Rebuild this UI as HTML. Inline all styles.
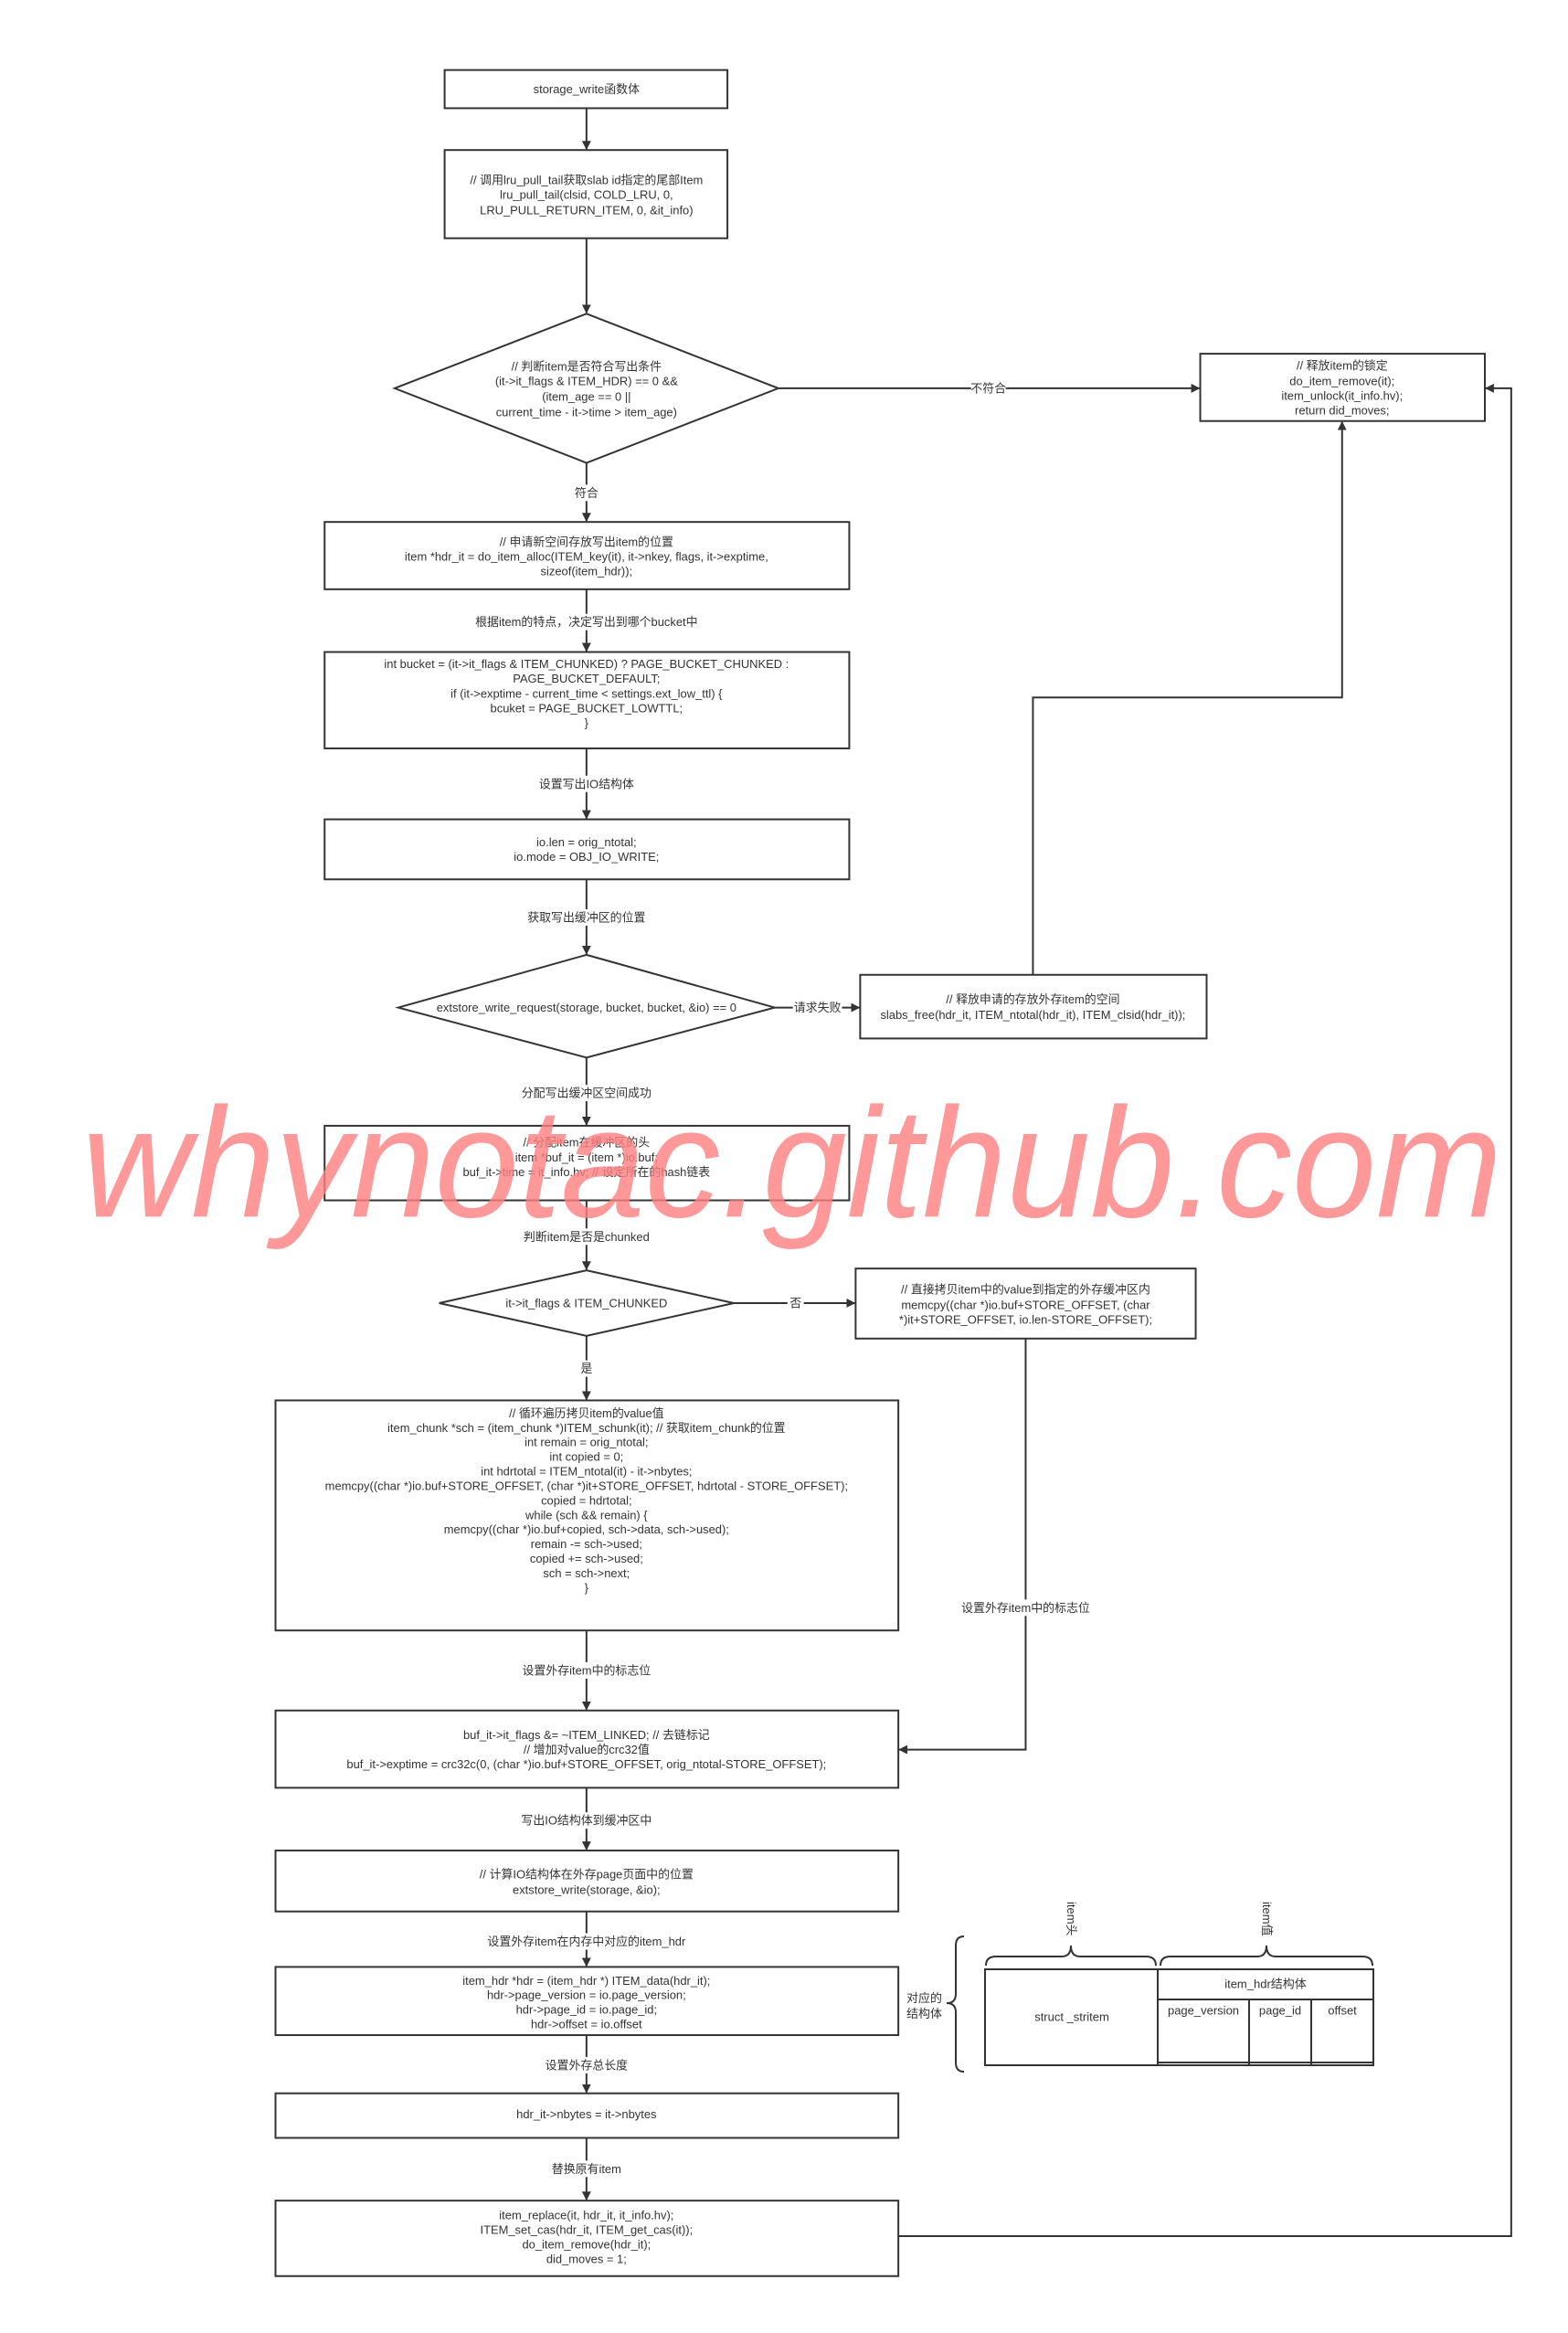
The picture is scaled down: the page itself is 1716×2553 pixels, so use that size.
<!DOCTYPE html>
<html><head><meta charset="utf-8"><style>
html,body{margin:0;padding:0;background:#fff}
svg{display:block}
text{font-family:"Liberation Sans","Noto Sans CJK SC",sans-serif;font-size:13px;fill:#333}
</style></head><body>
<svg width="1716" height="2553" viewBox="0 0 1716 2553" xmlns="http://www.w3.org/2000/svg">
<defs><marker id="a" markerWidth="10" markerHeight="10" refX="9" refY="5" orient="auto" markerUnits="userSpaceOnUse"><path d="M0,0 L10,5 L0,10 z" fill="#333"/></marker></defs>
<g transform="scale(0.9951)">
<g fill="none" stroke="#333" stroke-width="2">
<rect x="489" y="77" width="311" height="42"/>
<rect x="489" y="165" width="311" height="97"/>
<polygon points="645,345 856,427 645,509 434,427"/>
<rect x="1320" y="389" width="313" height="74"/>
<rect x="357" y="574" width="577" height="74"/>
<rect x="357" y="717" width="577" height="106"/>
<rect x="357" y="901" width="577" height="66"/>
<polygon points="645,1050 852,1108 645,1163 438,1108"/>
<rect x="946" y="1072" width="381" height="70"/>
<rect x="357" y="1238" width="577" height="82"/>
<polygon points="645,1397 807,1433 645,1469 483,1433"/>
<rect x="941" y="1395" width="374" height="77"/>
<rect x="303" y="1540" width="685" height="253"/>
<rect x="303" y="1881" width="685" height="85"/>
<rect x="303" y="2035" width="685" height="67"/>
<rect x="303" y="2163" width="685" height="75"/>
<rect x="303" y="2302" width="685" height="49"/>
<rect x="303" y="2420" width="685" height="83"/>
</g>
<g fill="none" stroke="#333" stroke-width="2" marker-end="url(#a)">
<line x1="645" y1="119" x2="645" y2="164"/>
<line x1="645" y1="262" x2="645" y2="344"/>
<line x1="856" y1="427" x2="1319" y2="427"/>
<line x1="645" y1="509" x2="645" y2="573"/>
<line x1="645" y1="648" x2="645" y2="716"/>
<line x1="645" y1="823" x2="645" y2="900"/>
<line x1="645" y1="967" x2="645" y2="1049"/>
<line x1="852" y1="1108" x2="945" y2="1108"/>
<polyline points="1136,1072 1136,767 1476,767 1476,464"/>
<line x1="645" y1="1163" x2="645" y2="1237"/>
<line x1="645" y1="1320" x2="645" y2="1396"/>
<line x1="807" y1="1433" x2="940" y2="1433"/>
<polyline points="1128,1472 1128,1924 989,1924"/>
<line x1="645" y1="1469" x2="645" y2="1539"/>
<line x1="645" y1="1793" x2="645" y2="1880"/>
<line x1="645" y1="1966" x2="645" y2="2034"/>
<line x1="645" y1="2102" x2="645" y2="2162"/>
<line x1="645" y1="2238" x2="645" y2="2301"/>
<line x1="645" y1="2351" x2="645" y2="2419"/>
<polyline points="988,2459 1662,2459 1662,427 1634,427"/>
</g>
<g text-anchor="middle" dominant-baseline="central">
<text x="645" y="98">storage_write函数体</text>
<text x="645" y="198">// 调用lru_pull_tail获取slab id指定的尾部Item</text>
<text x="645" y="214">lru_pull_tail(clsid, COLD_LRU, 0,</text>
<text x="645" y="231">LRU_PULL_RETURN_ITEM, 0, &amp;it_info)</text>
<text x="645" y="403">// 判断item是否符合写出条件</text>
<text x="645" y="419">(it-&gt;it_flags &amp; ITEM_HDR) == 0 &amp;&amp;</text>
<text x="645" y="436">(item_age == 0 ||</text>
<text x="645" y="453">current_time - it-&gt;time &gt; item_age)</text>
<rect x="1068" y="418" width="38" height="18" fill="#fff"/>
<text x="1087" y="427">不符合</text>
<text x="1476" y="402">// 释放item的锁定</text>
<text x="1476" y="419">do_item_remove(it);</text>
<text x="1476" y="435">item_unlock(it_info.hv);</text>
<text x="1476" y="451">return did_moves;</text>
<rect x="630" y="533" width="30" height="18" fill="#fff"/>
<text x="645" y="542">符合</text>
<text x="645" y="596">// 申请新空间存放写出item的位置</text>
<text x="645" y="612">item *hdr_it = do_item_alloc(ITEM_key(it),  it-&gt;nkey, flags, it-&gt;exptime,</text>
<text x="645" y="628">sizeof(item_hdr));</text>
<rect x="515" y="675" width="260" height="18" fill="#fff"/>
<text x="645" y="684">根据item的特点，决定写出到哪个bucket中</text>
<text x="645" y="730">int bucket = (it-&gt;it_flags &amp; ITEM_CHUNKED) ? PAGE_BUCKET_CHUNKED :</text>
<text x="645" y="746">PAGE_BUCKET_DEFAULT;</text>
<text x="645" y="763">if (it-&gt;exptime - current_time &lt; settings.ext_low_ttl) {</text>
<text x="645" y="779">bcuket = PAGE_BUCKET_LOWTTL;</text>
<text x="645" y="795">}</text>
<rect x="585" y="853" width="120" height="18" fill="#fff"/>
<text x="645" y="862">设置写出IO结构体</text>
<text x="645" y="926">io.len = orig_ntotal;</text>
<text x="645" y="942">io.mode = OBJ_IO_WRITE;</text>
<rect x="575" y="1000" width="140" height="18" fill="#fff"/>
<text x="645" y="1009">获取写出缓冲区的位置</text>
<text x="645" y="1108">extstore_write_request(storage, bucket, bucket, &amp;io) == 0</text>
<rect x="872" y="1099" width="54" height="18" fill="#fff"/>
<text x="899" y="1108">请求失败</text>
<text x="1136" y="1099">// 释放申请的存放外存item的空间</text>
<text x="1136" y="1116">slabs_free(hdr_it, ITEM_ntotal(hdr_it), ITEM_clsid(hdr_it));</text>
<rect x="568" y="1193" width="154" height="18" fill="#fff"/>
<text x="645" y="1202">分配写出缓冲区空间成功</text>
<text x="645" y="1256">// 分配item在缓冲区的头</text>
<text x="645" y="1273">item *buf_it = (item *)io.buf;</text>
<text x="645" y="1289">buf_it-&gt;time = it_info.hv;  // 设定所在的hash链表</text>
<rect x="570" y="1351" width="150" height="18" fill="#fff"/>
<text x="645" y="1360">判断item是否是chunked</text>
<text x="645" y="1433">it-&gt;it_flags &amp; ITEM_CHUNKED</text>
<rect x="866" y="1424" width="18" height="18" fill="#fff"/>
<text x="875" y="1433">否</text>
<text x="1128" y="1418">// 直接拷贝item中的value到指定的外存缓冲区内</text>
<text x="1128" y="1435">memcpy((char *)io.buf+STORE_OFFSET, (char</text>
<text x="1128" y="1451">*)it+STORE_OFFSET, io.len-STORE_OFFSET);</text>
<rect x="1055" y="1759" width="146" height="18" fill="#fff"/>
<text x="1128" y="1768">设置外存item中的标志位</text>
<rect x="636" y="1496" width="18" height="18" fill="#fff"/>
<text x="645" y="1505">是</text>
<text x="645" y="1554">// 循环遍历拷贝item的value值</text>
<text x="645" y="1570">item_chunk *sch = (item_chunk *)ITEM_schunk(it); // 获取item_chunk的位置</text>
<text x="645" y="1586">int remain = orig_ntotal;</text>
<text x="645" y="1602">int copied = 0;</text>
<text x="645" y="1618">int hdrtotal = ITEM_ntotal(it) - it-&gt;nbytes;</text>
<text x="645" y="1634">memcpy((char *)io.buf+STORE_OFFSET, (char *)it+STORE_OFFSET, hdrtotal - STORE_OFFSET);</text>
<text x="645" y="1650">copied = hdrtotal;</text>
<text x="645" y="1666">while (sch &amp;&amp; remain) {</text>
<text x="645" y="1682">memcpy((char *)io.buf+copied, sch-&gt;data, sch-&gt;used);</text>
<text x="645" y="1698">remain -= sch-&gt;used;</text>
<text x="645" y="1714">copied += sch-&gt;used;</text>
<text x="645" y="1730">sch = sch-&gt;next;</text>
<text x="645" y="1746">}</text>
<rect x="572" y="1828" width="146" height="18" fill="#fff"/>
<text x="645" y="1837">设置外存item中的标志位</text>
<text x="645" y="1908">buf_it-&gt;it_flags &amp;= ~ITEM_LINKED;  // 去链标记</text>
<text x="645" y="1924">// 增加对value的crc32值</text>
<text x="645" y="1940">buf_it-&gt;exptime = crc32c(0, (char *)io.buf+STORE_OFFSET, orig_ntotal-STORE_OFFSET);</text>
<rect x="572" y="1993" width="146" height="18" fill="#fff"/>
<text x="645" y="2002">写出IO结构体到缓冲区中</text>
<text x="645" y="2061">// 计算IO结构体在外存page页面中的位置</text>
<text x="645" y="2078">extstore_write(storage, &amp;io);</text>
<rect x="530" y="2126" width="230" height="18" fill="#fff"/>
<text x="645" y="2135">设置外存item在内存中对应的item_hdr</text>
<text x="645" y="2178">item_hdr *hdr = (item_hdr *) ITEM_data(hdr_it);</text>
<text x="645" y="2194">hdr-&gt;page_version = io.page_version;</text>
<text x="645" y="2210">hdr-&gt;page_id = io.page_id;</text>
<text x="645" y="2226">hdr-&gt;offset = io.offset</text>
<rect x="598" y="2262" width="94" height="18" fill="#fff"/>
<text x="645" y="2271">设置外存总长度</text>
<text x="645" y="2325">hdr_it-&gt;nbytes = it-&gt;nbytes</text>
<rect x="604" y="2376" width="82" height="18" fill="#fff"/>
<text x="645" y="2385">替换原有item</text>
<text x="645" y="2436">item_replace(it, hdr_it, it_info.hv);</text>
<text x="645" y="2452">ITEM_set_cas(hdr_it, ITEM_get_cas(it));</text>
<text x="645" y="2468">do_item_remove(hdr_it);</text>
<text x="645" y="2484">did_moves = 1;</text>
</g>
<text x="90" y="1338" textLength="1562" lengthAdjust="spacingAndGlyphs" style="font-size:172px;font-style:italic;fill:#ff7f7f;fill-opacity:0.8">whynotac.github.com</text>
</g>
<g transform="translate(0,-5)">
<g fill="none" stroke="#333" stroke-width="2">
<rect x="1078" y="2160" width="425" height="105"/>
<line x1="1267" y1="2160" x2="1267" y2="2265"/>
<line x1="1267" y1="2193" x2="1503" y2="2193"/>
<line x1="1367" y1="2193" x2="1367" y2="2265"/>
<line x1="1435" y1="2193" x2="1435" y2="2265"/>
<line x1="1267" y1="2262" x2="1503" y2="2262"/>
<path d="M1079,2156 Q1079,2146 1090,2146 L1162,2146 Q1172,2146 1172,2134 Q1172,2146 1182,2146 L1254,2146 Q1265,2146 1265,2156"/>
<path d="M1270,2156 Q1270,2146 1281,2146 L1376,2146 Q1386,2146 1386,2134 Q1386,2146 1396,2146 L1491,2146 Q1502,2146 1502,2156"/>
<path d="M1055,2124 Q1046,2124 1046,2134 L1046,2187 Q1046,2197 1036,2197 Q1046,2197 1046,2207 L1046,2262 Q1046,2272 1055,2272"/>
</g>
<g font-size="12">
<text x="1173" y="2212" text-anchor="middle" dominant-baseline="central">struct _stritem</text>
<text x="1385" y="2176" text-anchor="middle" dominant-baseline="central">item_hdr结构体</text>
<text x="1317" y="2205" text-anchor="middle" dominant-baseline="central">page_version</text>
<text x="1401" y="2205" text-anchor="middle" dominant-baseline="central">page_id</text>
<text x="1469" y="2205" text-anchor="middle" dominant-baseline="central">offset</text>
<text x="992" y="2196">对应的</text>
<text x="992" y="2213">结构体</text>
<text transform="translate(1168,2086) rotate(90)">item头</text>
<text transform="translate(1382,2086) rotate(90)">item值</text>
</g>
</g>
</svg>
</body></html>
